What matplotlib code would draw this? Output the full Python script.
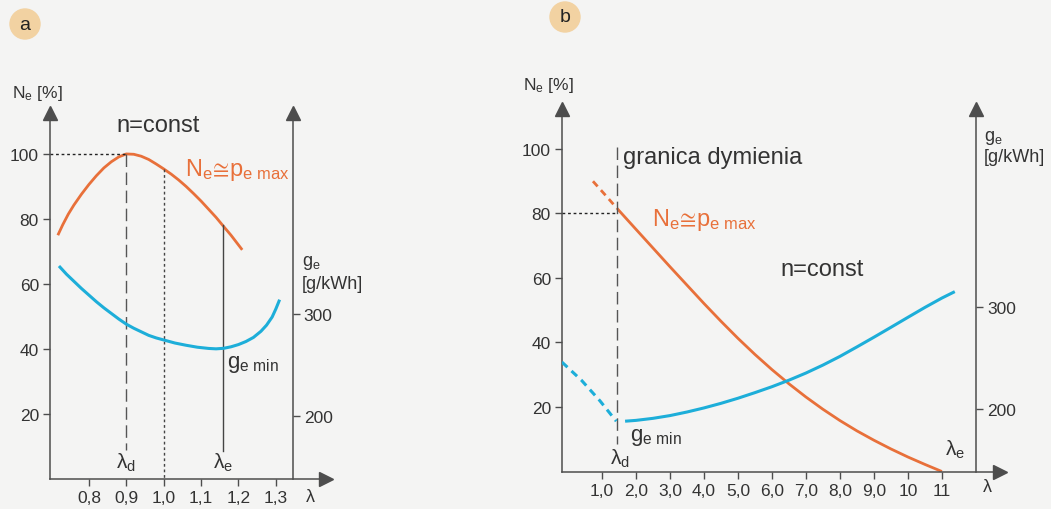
import matplotlib.pyplot as plt
from matplotlib.patches import Ellipse

plt.rcParams['font.family'] = ['Liberation Sans', 'DejaVu Sans']
plt.rcParams['mathtext.fontset'] = 'custom'
plt.rcParams['mathtext.rm'] = 'Liberation Sans'
plt.rcParams['mathtext.it'] = 'Liberation Sans'
plt.rcParams['mathtext.fallback'] = 'stixsans'

W, H = 1051, 510
BG = '#f4f4f3'
ORANGE = '#e8703a'
CYAN = '#1daed9'
AX = '#4d4d4d'
TXT = '#333333'

# ---- panel a: lambda < ~1.3, n = const ----
a_lam_ne = [0.717, 0.73, 0.745, 0.76, 0.78, 0.8, 0.82, 0.84, 0.86, 0.88, 0.9, 0.92, 0.94,
            0.96, 0.98, 1.0, 1.02, 1.04, 1.06, 1.08, 1.1, 1.12, 1.14, 1.158, 1.18, 1.2, 1.21]
a_ne = [75, 78.2, 81.5, 84.3, 87.6, 90.6, 93.3, 95.7, 97.6, 99.1, 100, 99.9, 99.3,
        98.3, 96.9, 95.4, 93.8, 92, 90, 87.8, 85.5, 83, 80.5, 78, 75, 72, 70.5]
a_lam_ge = [0.72, 0.74, 0.76, 0.78, 0.8, 0.82, 0.84, 0.86, 0.88, 0.9, 0.92, 0.94, 0.96, 0.98,
            1.0, 1.03, 1.06, 1.09, 1.12, 1.14, 1.16, 1.18, 1.2, 1.22, 1.24, 1.26, 1.275,
            1.29, 1.3, 1.31]
a_ge = [347, 339, 332, 325, 318.5, 312, 306, 300.5, 295, 290, 286, 282.5, 279, 276.5,
        274.5, 271.5, 269.3, 267.4, 266.2, 265.8, 266.3, 267.8, 270, 273, 277, 283, 289,
        297, 305, 314]
a_xticks = [0.8, 0.9, 1.0, 1.1, 1.2, 1.3]
a_xlabels = ['0,8', '0,9', '1,0', '1,1', '1,2', '1,3']
a_lam_d = 0.9
a_lam_1 = 1.0
a_lam_e = 1.158
a_ne_lam1 = 95.4
a_ne_lame = 78

# ---- panel b: wide lambda range ----
b_lam_ne_dash = [0.735, 1.1, 1.45]
b_ne_dash = [90, 85.7, 81.5]
b_lam_ne = [1.45, 2.0, 2.5, 3.0, 3.5, 4.0, 4.5, 5.0, 5.5, 6.0, 6.5, 7.0, 7.5, 8.0, 8.5,
            9.0, 9.5, 10.0, 10.5, 11.0]
b_ne = [81.5, 75.1, 69.3, 63.5, 57.8, 52.1, 46.6, 41.3, 36.3, 31.6, 27.2, 23.1, 19.3, 15.8,
        12.6, 9.7, 7.0, 4.5, 2.2, 0]
b_lam_ge_dash = [-0.18, 0.4, 0.94, 1.42]
b_ge_dash = [246, 228, 208, 188]
b_lam_ge = [1.68, 2.0, 2.5, 3.0, 3.5, 4.0, 4.5, 5.0, 5.5, 6.0, 6.5, 7.0, 7.5, 8.0, 8.5,
            9.0, 9.5, 10.0, 10.5, 11.0, 11.38]
b_ge = [188, 188.8, 190.8, 193.5, 197, 201, 205.5, 210.5, 216, 221.8, 228.2, 235.2, 243,
        251.5, 260.8, 270.3, 280, 289.8, 299.5, 308.7, 315]
b_xticks = [1, 2, 3, 4, 5, 6, 7, 8, 9, 10, 11]
b_xlabels = ['1,0', '2,0', '3,0', '4,0', '5,0', '6,0', '7,0', '8,0', '9,0', '10', '11']
b_lam_d = 1.45
b_ne_d = 80

ne_ticks = [20, 40, 60, 80, 100]
ge_ticks = [200, 300]

fig = plt.figure(figsize=(W / 100, H / 100), dpi=100, facecolor=BG)


def make_panel(px_l, px_r, px_t, px_b, xlim, ne_lim, ge_lim, x_ge, xticks, xlabels):
    ax = fig.add_axes([px_l / W, 1 - px_b / H, (px_r - px_l) / W, (px_b - px_t) / H])
    ax.set_facecolor('none')
    ax.set_xlim(xlim)
    ax.set_ylim(ne_lim)
    ax2 = ax.twinx()
    ax2.set_ylim(ge_lim)
    for s in ['top', 'right']:
        ax.spines[s].set_visible(False)
    for s in ['top', 'left', 'bottom']:
        ax2.spines[s].set_visible(False)
    ax2.spines['right'].set_position(('data', x_ge))
    for sp in [ax.spines['left'], ax.spines['bottom'], ax2.spines['right']]:
        sp.set_color(AX)
        sp.set_linewidth(1.1)
    for a in (ax, ax2):
        a.tick_params(colors=AX, labelcolor=TXT, labelsize=12.5, length=5, width=1, pad=3)
    ax.set_xticks(xticks, xlabels)
    ax.set_yticks(ne_ticks)
    ax2.set_yticks(ge_ticks)
    # arrow heads
    ax.plot([xlim[0]], [ne_lim[1]], marker='^', ms=10, color=AX, clip_on=False, zorder=5)
    ax.plot([x_ge], [ne_lim[1]], marker='^', ms=10, color=AX, clip_on=False, zorder=5)
    ax.plot([xlim[1]], [0], marker='>', ms=10, color=AX, clip_on=False, zorder=5)
    return ax, ax2


label_ne = r'N$_\mathrm{e}\!\cong\!$p$_\mathrm{e\ max}$'

# panel a
ax, ax2 = make_panel(50, 326, 114, 480, (0.696, 1.434), (0, 112.6), (138.2, 497), 1.345,
                     a_xticks, a_xlabels)
ax.plot(a_lam_ne, a_ne, color=ORANGE, lw=2, solid_capstyle='butt')
ax2.plot(a_lam_ge, a_ge, color=CYAN, lw=2.2, solid_capstyle='butt')
ax.plot([0.696, a_lam_d], [100, 100], color='#222222', lw=1, ls=(0, (2, 2)))
ax.plot([a_lam_d, a_lam_d], [100, 9], color='#555555', lw=1, ls=(0, (9, 4)))
ax.plot([a_lam_1, a_lam_1], [a_ne_lam1, 0], color='#444444', lw=1, ls=(0, (2, 2)))
ax.plot([a_lam_e, a_lam_e], [a_ne_lame, 8.6], color='#444444', lw=1)
ax.text(0.984, 109, 'n=const', fontsize=17, color=TXT, ha='center', va='center')
ax.text(1.057, 95.4, label_ne, fontsize=17, color=ORANGE, ha='left', va='center')
ax.text(0.9, 5.2, r'λ$_\mathrm{d}$', fontsize=15, color=TXT, ha='center', va='center')
ax.text(1.16, 5.2, r'λ$_\mathrm{e}$', fontsize=15, color=TXT, ha='center', va='center')
ax.text(1.17, 35.4, r'g$_\mathrm{e\ min}$', fontsize=16, color=TXT, ha='left', va='center')
ax.text(1.37, 66.8, r'g$_\mathrm{e}$', fontsize=13, color=TXT, ha='left', va='center', clip_on=False)
ax.text(1.37, 60, '[g/kWh]', fontsize=13, color=TXT, ha='left', va='center', clip_on=False)
ax.text(0.594, 119, r'N$_\mathrm{e}$ [%]', fontsize=12.5, color=TXT, ha='left', va='center', clip_on=False)
ax.text(1.391, -5.5, 'λ', fontsize=13, color=TXT, ha='center', va='center', clip_on=False)

# panel b
bx, bx2 = make_panel(562, 1000, 110, 472.5, (-0.176, 12.71), (0, 112.4), (138.7, 494), 12.0,
                     b_xticks, b_xlabels)
bx.plot(b_lam_ne_dash, b_ne_dash, color=ORANGE, lw=2, ls=(0, (2.5, 1.8)))
bx.plot(b_lam_ne, b_ne, color=ORANGE, lw=2, solid_capstyle='butt')
bx2.plot(b_lam_ge_dash, b_ge_dash, color=CYAN, lw=2.2, ls=(0, (2.5, 1.8)))
bx2.plot(b_lam_ge, b_ge, color=CYAN, lw=2.2, solid_capstyle='butt')
bx.plot([-0.176, b_lam_d], [b_ne_d, b_ne_d], color='#222222', lw=1, ls=(0, (2, 2)))
bx.plot([b_lam_d, b_lam_d], [100.6, 8.5], color='#555555', lw=1, ls=(0, (9, 4)))
bx.text(1.62, 97.5, 'granica dymienia', fontsize=17, color=TXT, ha='left', va='center')
bx.text(2.47, 78.3, label_ne, fontsize=17, color=ORANGE, ha='left', va='center')
bx.text(6.24, 62.8, 'n=const', fontsize=17, color=TXT, ha='left', va='center')
bx.text(1.82, 10.7, r'g$_\mathrm{e\ min}$', fontsize=16, color=TXT, ha='left', va='center')
bx.text(1.53, 4.2, r'λ$_\mathrm{d}$', fontsize=15, color=TXT, ha='center', va='center')
bx.text(11.4, 7, r'λ$_\mathrm{e}$', fontsize=15, color=TXT, ha='center', va='center')
bx.text(12.35, -4.8, 'λ', fontsize=13, color=TXT, ha='center', va='center', clip_on=False)
bx.text(12.24, 103.7, r'g$_\mathrm{e}$', fontsize=13, color=TXT, ha='left', va='center', clip_on=False)
bx.text(12.24, 97.8, '[g/kWh]', fontsize=13, color=TXT, ha='left', va='center', clip_on=False)
bx.text(-1.32, 120, r'N$_\mathrm{e}$ [%]', fontsize=12.5, color=TXT, ha='left', va='center', clip_on=False)

# panel badges
for (cx, cy, s) in [(25, 25, 'a'), (565, 18, 'b')]:
    fig.add_artist(Ellipse((cx / W, 1 - cy / H), 30 / W, 30 / H, transform=fig.transFigure,
                           color='#f2d2a2', zorder=0))
    fig.text(cx / W, 1 - cy / H, s, fontsize=14, color='#222222', ha='center', va='center')

fig.savefig('out.png', dpi=100, facecolor=BG)
